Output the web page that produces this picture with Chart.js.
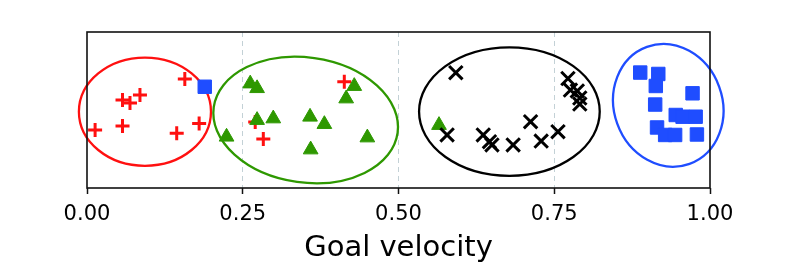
<!DOCTYPE html>
<html>
<head>
<meta charset="utf-8">
<script src="https://cdn.jsdelivr.net/npm/chart.js@4"></script>
<style>
  html, body { margin: 0; padding: 0; background: #fff; }
  #wrap { width: 789px; height: 263px; }
</style>
</head>
<body>
<div id="wrap"><canvas id="goalChart"></canvas></div>
<script>
// goal velocity clusters (y is unitless, 0..1)
const redX = [0.157, 0.057, 0.069, 0.085, 0.013, 0.057, 0.144, 0.180, 0.413, 0.270, 0.283];
const redY = [0.699, 0.564, 0.545, 0.596, 0.372, 0.397, 0.351, 0.413, 0.681, 0.423, 0.314];

const greenX = [0.224, 0.262, 0.273, 0.273, 0.299, 0.358, 0.381, 0.359, 0.429, 0.416, 0.450, 0.565];
const greenY = [0.328, 0.669, 0.639, 0.435, 0.445, 0.456, 0.409, 0.246, 0.653, 0.573, 0.323, 0.403];

const blackX = [0.592, 0.578, 0.636, 0.646, 0.650, 0.684, 0.712, 0.729, 0.756, 0.772, 0.776, 0.787, 0.791, 0.791];
const blackY = [0.739, 0.340, 0.340, 0.297, 0.276, 0.276, 0.425, 0.301, 0.361, 0.702, 0.628, 0.622, 0.577, 0.538];

const blueX = [0.189, 0.888, 0.917, 0.913, 0.912, 0.972, 0.945, 0.956, 0.977, 0.915, 0.928, 0.944, 0.979];
const blueY = [0.649, 0.740, 0.731, 0.654, 0.535, 0.607, 0.468, 0.457, 0.457, 0.388, 0.340, 0.340, 0.343];

const xTicks = [0, 0.25, 0.5, 0.75, 1];

// cluster ellipses (centre, half-widths in data units, tilt in degrees)
const ellCx = [0.093, 0.351, 0.678, 0.933];
const ellCy = [0.489, 0.436, 0.490, 0.530];
const ellRx = [0.106, 0.149, 0.145, 0.087];
const ellRy = [0.347, 0.401, 0.412, 0.399];
const ellTilt = [0, 8, 0, -20];

const RED = '#ff1010', GREEN = '#2e9800', BLACK = '#000000', BLUE = '#1f4dff';
const ellColors = [RED, GREEN, BLACK, BLUE];

function pts(xs, ys) {
  return xs.map((x, i) => ({ x: x, y: ys[i] }));
}

const ellipsePlugin = {
  id: 'ellipses',
  beforeDatasetsDraw(chart) {
    const c = chart.ctx, xs = chart.scales.x, ys = chart.scales.y;
    c.save();
    c.lineWidth = 2.3;
    ellCx.forEach((cx, i) => {
      const px = xs.getPixelForValue(cx);
      const py = ys.getPixelForValue(ellCy[i]);
      const rx = Math.abs(xs.getPixelForValue(cx + ellRx[i]) - px);
      const ry = Math.abs(ys.getPixelForValue(ellCy[i] + ellRy[i]) - py);
      c.strokeStyle = ellColors[i];
      c.beginPath();
      c.ellipse(px, py, rx, ry, ellTilt[i] * Math.PI / 180, 0, Math.PI * 2);
      c.stroke();
    });
    c.restore();
  },
  afterDatasetsDraw(chart) {
    const a = chart.chartArea, c = chart.ctx;
    c.save();
    c.strokeStyle = '#111';
    c.lineWidth = 1.6;
    c.strokeRect(a.left, a.top, a.right - a.left, a.bottom - a.top);
    c.restore();
  }
};

const ctx = document.getElementById('goalChart').getContext('2d');
new Chart(ctx, {
  type: 'scatter',
  data: {
    datasets: [
      { data: pts(redX, redY), order: 4, pointStyle: 'cross', pointRadius: 7,
        borderColor: RED, backgroundColor: RED, pointBorderWidth: 3 },
      { data: pts(greenX, greenY), order: 3, pointStyle: 'triangle', pointRadius: 8.5,
        borderColor: GREEN, backgroundColor: GREEN, pointBorderWidth: 1 },
      { data: pts(blackX, blackY), order: 2, pointStyle: 'crossRot', pointRadius: 9.5,
        borderColor: BLACK, backgroundColor: BLACK, pointBorderWidth: 3 },
      { data: pts(blueX, blueY), order: 1, pointStyle: 'rect', pointRadius: 9.5,
        borderColor: BLUE, backgroundColor: BLUE, pointBorderWidth: 1 }
    ]
  },
  options: {
    responsive: true,
    maintainAspectRatio: false,
    animation: false,
    layout: { padding: { left: 87, right: 79, top: 32, bottom: 0 } },
    plugins: { legend: { display: false }, tooltip: { enabled: false } },
    scales: {
      x: {
        type: 'linear',
        min: 0,
        max: 1,
        afterFit: (scale) => { scale.height = 75; },
        afterBuildTicks: (scale) => { scale.ticks = xTicks.map(v => ({ value: v })); },
        border: { display: false, dash: [5, 4] },
        grid: {
          color: (c) => (c.tick && c.tick.value > 0 && c.tick.value < 1) ? '#c3d1d6' : 'rgba(0,0,0,0)',
          lineWidth: 1,
          drawTicks: true,
          tickLength: 6,
          tickColor: '#111',
          tickWidth: 1.5
        },
        ticks: {
          color: '#000',
          padding: 8,
          maxRotation: 0,
          font: { family: 'DejaVu Sans', size: 21 },
          callback: (v) => Number(v).toFixed(2)
        },
        title: {
          display: true,
          text: 'Goal velocity',
          color: '#000',
          padding: { top: 0, bottom: 0 },
          font: { family: 'DejaVu Sans', size: 29, lineHeight: 1.0 }
        }
      },
      y: {
        display: false,
        min: 0,
        max: 1
      }
    }
  },
  plugins: [ellipsePlugin]
});
</script>
</body>
</html>
